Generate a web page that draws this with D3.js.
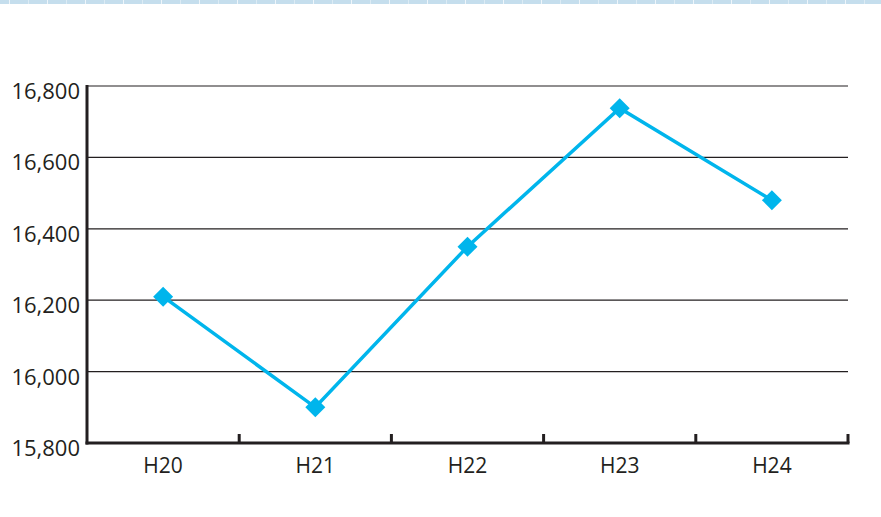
<!DOCTYPE html>
<html>
<head>
<meta charset="utf-8">
<script src="https://cdn.jsdelivr.net/npm/d3@7"></script>
<style>
  body { margin: 0; background: #fff; }
  text { font-family: "Open Sans", sans-serif; fill: #231f20; }
</style>
</head>
<body>
<div id="main"></div>
<script>
// data
var categories = ['H20', 'H21', 'H22', 'H23', 'H24'];
var values = [16210, 15900, 16350, 16738, 16480];
var yTicks = [15800, 16000, 16200, 16400, 16600, 16800];

var width = 881, height = 517;
var margin = { left: 87, right: 33, top: 86, bottom: 74 };

var svg = d3.select('#main').append('svg')
    .attr('width', width)
    .attr('height', height);

// light blue band along the top
var band = svg.append('g');
band.selectAll('rect')
    .data(d3.range(0, 47))
    .enter()
    .append('rect')
    .attr('x', (d) => d * 19 - 9)
    .attr('y', 0)
    .attr('width', (d) => d % 2 === 0 ? 18.3 : 18.6)
    .attr('height', 4)
    .attr('fill', '#c5deed');

var x = d3.scaleBand()
    .domain(categories)
    .range([margin.left, width - margin.right]);

var y = d3.scaleLinear()
    .domain([15800, 16800])
    .range([height - margin.bottom, margin.top]);

// gridlines
svg.append('g').selectAll('line')
    .data(yTicks.slice(1))
    .enter()
    .append('line')
    .attr('x1', margin.left)
    .attr('x2', width - margin.right)
    .attr('y1', (d) => y(d))
    .attr('y2', (d) => y(d))
    .attr('stroke', '#231f20')
    .attr('stroke-width', 1.2);

// y labels
svg.append('g').selectAll('text')
    .data(yTicks)
    .enter()
    .append('text')
    .attr('x', margin.left - 7)
    .attr('y', (d) => y(d) + 13)
    .attr('text-anchor', 'end')
    .attr('font-size', 22)
    .attr('font-weight', 500)
    .text((d) => d3.format(',')(d));

// left axis
svg.append('line')
    .attr('x1', margin.left)
    .attr('x2', margin.left)
    .attr('y1', margin.top - 1)
    .attr('y2', y(15800) + 1.5)
    .attr('stroke', '#231f20')
    .attr('stroke-width', 3);

// bottom axis
svg.append('line')
    .attr('x1', margin.left - 1.5)
    .attr('x2', width - margin.right + 1.5)
    .attr('y1', y(15800))
    .attr('y2', y(15800))
    .attr('stroke', '#231f20')
    .attr('stroke-width', 3);

// category separator ticks
var bounds = categories.slice(1).map((c) => x(c)).concat([x(categories[categories.length - 1]) + x.bandwidth()]);
svg.append('g').selectAll('line')
    .data(bounds)
    .enter()
    .append('line')
    .attr('x1', (d) => d)
    .attr('x2', (d) => d)
    .attr('y1', y(15800) - 9)
    .attr('y2', y(15800))
    .attr('stroke', '#231f20')
    .attr('stroke-width', 3);

// x labels
svg.append('g').selectAll('text')
    .data(categories)
    .enter()
    .append('text')
    .attr('x', (d) => x(d) + x.bandwidth() / 2)
    .attr('y', height - margin.bottom + 30)
    .attr('text-anchor', 'middle')
    .attr('font-size', 21)
    .attr('font-weight', 500)
    .text((d) => d);

// line
var line = d3.line()
    .x((d, i) => x(categories[i]) + x.bandwidth() / 2)
    .y((d) => y(d));

svg.append('path')
    .datum(values)
    .attr('d', line)
    .attr('fill', 'none')
    .attr('stroke', '#00b5ec')
    .attr('stroke-width', 3.5);

// diamond markers
var diamond = d3.symbol().type(d3.symbolSquare).size(200);
svg.append('g').selectAll('path')
    .data(values)
    .enter()
    .append('path')
    .attr('d', diamond)
    .attr('transform', (d, i) => 'translate(' + (x(categories[i]) + x.bandwidth() / 2) + ',' + y(d) + ') rotate(45)')
    .attr('fill', '#00b5ec');
</script>
</body>
</html>
